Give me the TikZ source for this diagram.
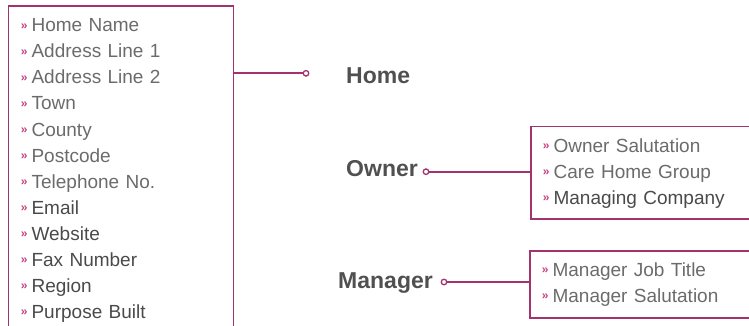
\documentclass[tikz,border=0pt]{standalone}
\usepackage{fontspec}
\setmainfont{Liberation Sans}
\usetikzlibrary{positioning}
\definecolor{linepink}{HTML}{A3336F}
\definecolor{bulpink}{HTML}{C4437F}
\definecolor{txtgrey}{HTML}{6B6B6B}
\definecolor{txtdark}{HTML}{4A4A4A}
\definecolor{lblgrey}{HTML}{505050}
\newcommand{\itm}{\raisebox{2.6pt}{\fontsize{12}{12}\selectfont\bfseries\color{bulpink}»}\hspace{4pt}}
\tikzset{
    %Define style for the boxes
    fieldbox/.style={
           rectangle,
           draw=linepink, line width=1.6pt,
           anchor=north west,
           inner sep=0pt},
    %Define style for the list entries
    entry/.style={
           inner xsep=0pt, inner ysep=0pt,
           text width=190pt,
           align=left,
           minimum height=25.6pt,
           text height=14pt, text depth=4pt,
           font=\fontsize{19}{19}\selectfont,
           text=txtgrey},
    dark/.style={text=txtdark},
    % Define style for the group names
    grp/.style={
           font=\fontsize{23}{23}\selectfont\bfseries,
           text=lblgrey,
           inner sep=0pt},
    % Define style for the end points
    knob/.style={
           circle,
           draw=linepink, fill=white, line width=1.3pt,
           minimum size=5.5pt, inner sep=0pt},
    % Define connector style
    conn/.style={
           draw=linepink,
           line width=1.6pt}
}

\begin{document}
\begin{tikzpicture}[x=1pt, y=-1pt, node distance=0pt]
\useasboundingbox (0,0) rectangle (749,326);
\clip (0,0) rectangle (749,326);

% Boxes (cut by the page)
\node[fieldbox, minimum width=225pt, minimum height=340pt] (homebox) at (7.7,5.3) {};
\node[fieldbox, minimum width=240pt, minimum height=92.6pt] (ownerbox) at (530,125.7) {};
\node[fieldbox, minimum width=240pt, minimum height=67.3pt] (mgrbox) at (529,250) {};

% Home fields
\node[entry, anchor=north west] (h1) at (20.7,14) {\itm Home Name};
\node[entry] (h2) [below = of h1] {\itm Address Line 1};
\node[entry] (h3) [below = of h2] {\itm Address Line 2};
\node[entry] (h4) [below = of h3] {\itm Town};
\node[entry] (h5) [below = of h4] {\itm County};
\node[entry] (h6) [below = of h5] {\itm Postcode};
\node[entry] (h7) [below = of h6] {\itm Telephone No.};
\node[entry, dark] (h8) [below = of h7] {\itm Email};
\node[entry, dark] (h9) [below = of h8] {\itm Website};
\node[entry, dark] (h10) [below = of h9] {\itm Fax Number};
\node[entry, dark] (h11) [below = of h10] {\itm Region};
\node[entry, dark] (h12) [below = of h11] {\itm Purpose Built};

% Owner fields
\node[entry, anchor=north west] (o1) at (542.7,134) {\itm Owner Salutation};
\node[entry] (o2) [below = of o1] {\itm Care Home Group};
\node[entry, dark] (o3) [below = of o2] {\itm Managing Company};

% Manager fields
\node[entry, anchor=north west] (m1) at (541.7,258.3) {\itm Manager Job Title};
\node[entry] (m2) [below = of m1] {\itm Manager Salutation};

% End points
\node[knob] (homedot) at (306,73.3) {};
\node[knob] (ownerdot) at (426,171.7) {};
\node[knob] (mgrdot) at (444,282) {};

% Group names
\node[grp, anchor=base west] (home) at (346,83.2) {Home};
\node[grp, anchor=base east] (owner) at (418,176.7) {Owner};
\node[grp, anchor=base east] (mgr) at (433,288.5) {Manager};

\path
% links to the boxes
(homedot) edge[conn] (homedot -| homebox.east)
(ownerdot) edge[conn] (ownerdot -| ownerbox.west)
(mgrdot) edge[conn] (mgrdot -| mgrbox.west);

\end{tikzpicture}
\end{document}
